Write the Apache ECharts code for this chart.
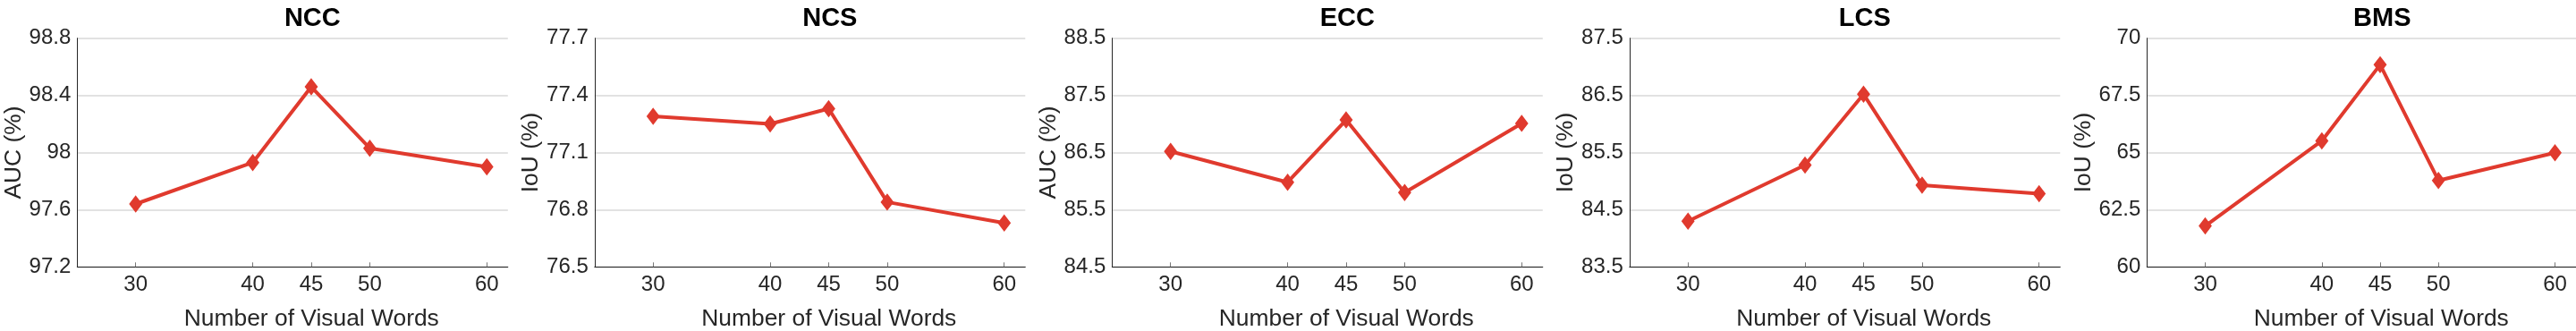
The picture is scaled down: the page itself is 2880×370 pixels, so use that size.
<!DOCTYPE html>
<html>
<head>
<meta charset="utf-8">
<script src="https://cdn.jsdelivr.net/npm/echarts@6.0.0/dist/echarts.min.js"></script>
<style>
  html, body { margin: 0; padding: 0; background: #fff; }
  #chart { width: 2880px; height: 370px; }
</style>
</head>
<body>
<div id="chart"></div>
<script>
// number of visual words (x axis)
const wordCounts = [30, 40, 45, 50, 60];

const panelTitles = ['NCC', 'NCS', 'ECC', 'LCS', 'BMS'];
const yNames = ['AUC (%)', 'IoU (%)', 'AUC (%)', 'IoU (%)', 'IoU (%)'];

// values
const nccValues = [97.64, 97.93, 98.46, 98.03, 97.90];
const ncsValues = [77.29, 77.25, 77.33, 76.84, 76.73];
const eccValues = [86.52, 85.98, 87.07, 85.80, 87.01];
const lcsValues = [84.30, 85.28, 86.52, 84.93, 84.78];
const bmsValues = [61.79, 65.51, 68.84, 63.78, 64.99];

// y axis ranges / tick steps
const yMins = [97.2, 76.5, 84.5, 83.5, 60];
const yMaxs = [98.8, 77.7, 88.5, 87.5, 70];
const yIntervals = [0.4, 0.3, 1, 1, 2.5];

const allValues = [nccValues, ncsValues, eccValues, lcsValues, bmsValues];

var myChart = echarts.init(document.getElementById('chart'));

var FONT = '"Liberation Sans", Arial, Helvetica, sans-serif';
var TEXT = '#262626';
var RED = '#e03a2e';

var grids = [], xAxes = [], yAxes = [], series = [], graphics = [];

for (var i = 0; i < 5; i++) {
  var left = 86.3 + 578.5 * i;
  grids.push({ left: left, top: 42.7, width: 481.5, height: 255.6 });

  xAxes.push({
    gridIndex: i,
    type: 'value',
    min: 25,
    max: 61.8,
    axisLine: { show: true, onZero: false, lineStyle: { color: TEXT, width: 1 } },
    axisTick: { show: true, inside: true, length: 5, customValues: wordCounts, lineStyle: { color: '#777' } },
    axisLabel: { customValues: wordCounts, fontSize: 24, color: TEXT, fontFamily: FONT, margin: 8 },
    splitLine: { show: false }
  });

  yAxes.push({
    gridIndex: i,
    type: 'value',
    min: yMins[i],
    max: yMaxs[i],
    interval: yIntervals[i],
    name: yNames[i],
    nameLocation: 'middle',
    nameGap: 58,
    nameTextStyle: { fontSize: 26.4, color: TEXT, fontFamily: FONT },
    axisLine: { show: true, lineStyle: { color: TEXT, width: 1 } },
    axisTick: { show: false },
    axisLabel: { fontSize: 24, color: TEXT, fontFamily: FONT, margin: 7 },
    splitLine: { show: true, lineStyle: { color: '#d9d9d9', width: 1.5 } }
  });

  series.push({
    type: 'line',
    xAxisIndex: i,
    yAxisIndex: i,
    data: wordCounts.map(function (w, k) { return [w, allValues[i][k]]; }),
    lineStyle: { color: RED, width: 4 },
    itemStyle: { color: RED, borderColor: RED, borderWidth: 1.5 },
    symbol: 'diamond',
    symbolSize: [13, 17],
    showSymbol: true,
    animation: false,
    z: 5
  });

  // panel title
  graphics.push({
    type: 'text',
    x: left + 263, y: 21,
    style: {
      text: panelTitles[i], textAlign: 'center', textVerticalAlign: 'middle',
      font: 'bold 29px ' + FONT, fill: '#000'
    }
  });
  // x axis label
  graphics.push({
    type: 'text',
    x: left + 262, y: 357,
    style: {
      text: 'Number of Visual Words', textAlign: 'center', textVerticalAlign: 'middle',
      font: '26.4px ' + FONT, fill: TEXT
    }
  });
}

var option = {
  animation: false,
  backgroundColor: '#fff',
  grid: grids,
  xAxis: xAxes,
  yAxis: yAxes,
  series: series,
  graphic: graphics
};

myChart.setOption(option);
</script>
</body>
</html>
